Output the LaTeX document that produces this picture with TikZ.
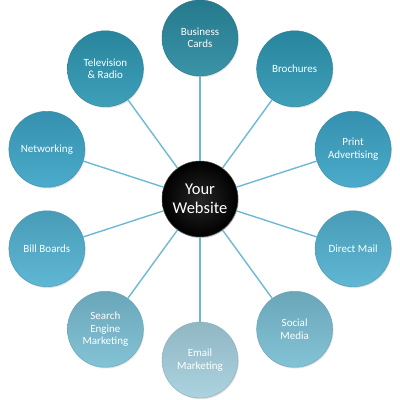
\documentclass[tikz,border=0pt]{standalone}
\usepackage{fontspec}
\setmainfont{Carlito}
\usetikzlibrary{shadows,calc}
\definecolor{linec}{HTML}{6DB8D2}
\tikzset{
  bub/.style={circle, minimum size=76pt, inner sep=0pt, align=center,
    text=white, font=\fontsize{11}{12.5}\selectfont, draw=#1!85!black, line width=0.4pt,
    top color=#1!88!black, bottom color=#1!92!white,
    drop shadow={shadow xshift=0.8pt, shadow yshift=-1.2pt, opacity=0.25}},
  conn/.style={draw=linec, line width=1.4pt}
}
\definecolor{cA}{HTML}{2A8AA0}
\definecolor{cB}{HTML}{2E97B3}
\definecolor{cC}{HTML}{3CA4C6}
\definecolor{cD}{HTML}{52B1D0}
\definecolor{cE}{HTML}{79BDD2}
\definecolor{cF}{HTML}{A4CFDD}
\begin{document}
\begin{tikzpicture}[x=1pt,y=-1pt]
\useasboundingbox (0,0) rectangle (400,400);
\coordinate (o) at (200,199);
\node[circle, minimum size=76pt, inner sep=0pt, align=center, text=white,
  font=\fontsize{16.5}{19}\selectfont, inner color=black!85, outer color=black,
  draw=black!70, line width=0.5pt,
  drop shadow={shadow xshift=0.8pt, shadow yshift=-1.2pt, opacity=0.3}] (c) at (o) {Your\\Website};
\foreach \n/\a/\c/\t in {
  bc/90/cA/{Business\\Cards},
  br/54/cB/{Brochures},
  pa/18/cC/{Print\\Advertising},
  dm/-18/cD/{Direct Mail},
  sm/-54/cE/{Social\\Media},
  em/-90/cF/{Email\\Marketing},
  se/-126/cE/{Search\\Engine\\Marketing},
  bb/-162/cD/{Bill Boards},
  nw/162/cC/{Networking},
  tv/126/cB/{Television\\\& Radio}}{
  \node[bub=\c] (\n) at ($(o)+(\a:161 and -161)$) {\t};
  \draw[conn] (c) -- (\n);
}
\end{tikzpicture}
\end{document}
